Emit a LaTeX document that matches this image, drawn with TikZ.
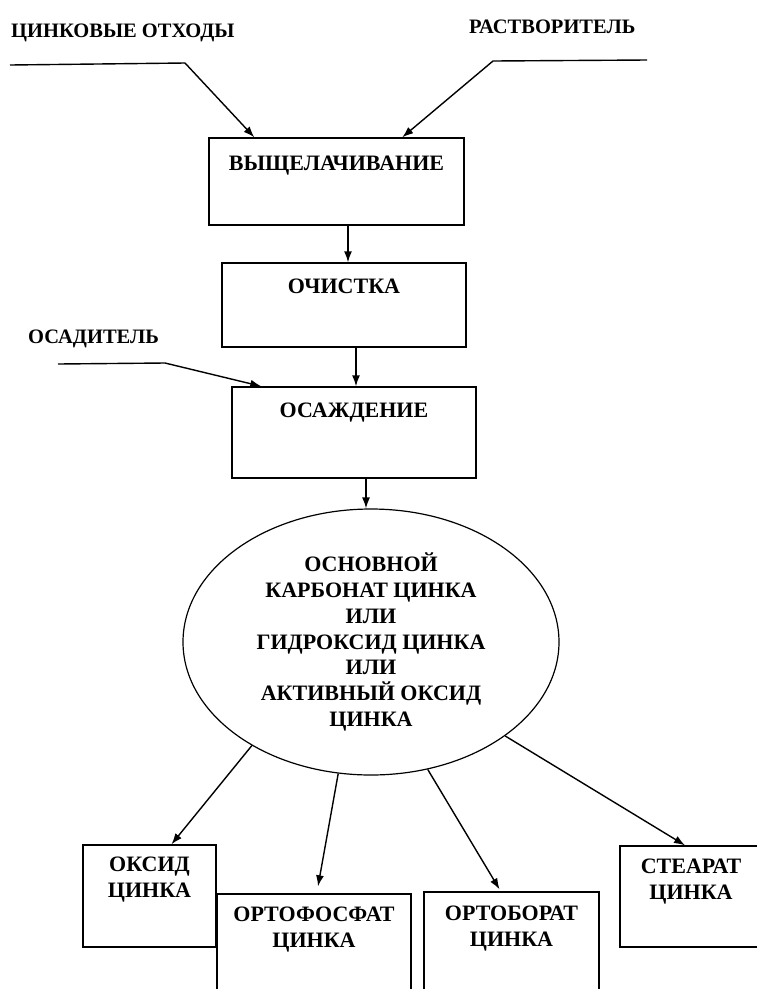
\documentclass[tikz,border=0pt]{standalone}
\usepackage{fontspec}
\setmainfont{Liberation Serif}
\usetikzlibrary{arrows.meta,shapes.geometric}
\begin{document}
\begin{tikzpicture}[x=1pt,y=-1pt,
  box/.style={draw, line width=1.4pt, inner sep=0pt},
  lbl/.style={font=\fontsize{20.5}{24}\selectfont\bfseries, inner sep=0pt},
  txt/.style={font=\fontsize{22}{26}\selectfont\bfseries, inner sep=0pt, align=center},
  arr/.style={line width=1.4pt, -{Latex[length=11pt,width=8pt]}}]
\useasboundingbox (0,0) rectangle (757,989);
\fill[white] (0,0) rectangle (757,989);
\clip (0,0) rectangle (757,989);
% boxes
\node[box, minimum width=255pt, minimum height=87pt] (b1) at (336.5,181.5) {};
\node[box, minimum width=244pt, minimum height=84pt] (b2) at (344,305) {};
\node[box, minimum width=244pt, minimum height=91pt] (b3) at (354,432.5) {};
\node[box, ellipse, line width=1.2pt, minimum width=376pt, minimum height=266pt, txt,
      font=\fontsize{22}{25.8}\selectfont\bfseries] (e) at (371,642)
  {ОСНОВНОЙ\\КАРБОНАТ ЦИНКА\\ИЛИ\\ГИДРОКСИД ЦИНКА\\ИЛИ\\АКТИВНЫЙ ОКСИД\\ЦИНКА};
\node[box, minimum width=133pt, minimum height=102pt] (ok) at (149.5,896) {};
\node[box, minimum width=194pt, minimum height=116pt] (of) at (314,952) {};
\node[box, minimum width=175pt, minimum height=118pt] (ob) at (511.5,951) {};
\node[box, minimum width=150pt, minimum height=101pt] (st) at (695,896.5) {};
% texts
\node[lbl, anchor=base west] (l1) at (11,37) {ЦИНКОВЫЕ ОТХОДЫ};
\node[lbl, anchor=base west] (l2) at (469,33) {РАСТВОРИТЕЛЬ};
\node[lbl, anchor=base west] (l3) at (28,343) {ОСАДИТЕЛЬ};
\node[txt, anchor=base] (t1) at (336.5,170) {ВЫЩЕЛАЧИВАНИЕ};
\node[txt, anchor=base] (t2) at (344,293) {ОЧИСТКА};
\node[txt, anchor=base] (t3) at (354,417) {ОСАЖДЕНИЕ};
\node[txt, anchor=north] (t4) at (149.5,857) {ОКСИД\\ЦИНКА};
\node[txt, anchor=north] (t5) at (314,907) {ОРТОФОСФАТ\\ЦИНКА};
\node[txt, anchor=north] (t6) at (511.5,906) {ОРТОБОРАТ\\ЦИНКА};
\node[txt, anchor=north] (t7) at (691,859) {СТЕАРАТ\\ЦИНКА};
% input lines
\coordinate (zA) at (10,65); \coordinate (zB) at (185,63);
\draw[arr] (zA) -- (zB) -- ([xshift=46pt]b1.north west);
\coordinate (rA) at (647,60); \coordinate (rB) at (493,61);
\draw[arr] (rA) -- (rB) -- ([xshift=194pt]b1.north west);
\coordinate (oA) at (58,364); \coordinate (oB) at (165,363);
\draw[arr] (oA) -- (oB) -- ([xshift=30pt]b3.north west);
% flow arrows
\draw[arr] ([xshift=11.5pt]b1.south) -- ([xshift=11.5pt]b1.south |- b2.north);
\draw[arr] ([xshift=12pt]b2.south) -- ([xshift=12pt]b2.south |- b3.north);
\draw[arr] ([xshift=12pt]b3.south) -- ([xshift=12pt]b3.south |- e.north);
% output arrows
\draw[arr] (e.221) -- ([xshift=22pt]ok.north);
\draw[arr] (e.256) -- ([xshift=4pt,yshift=7pt]of.north);
\draw[arr] (e.294) -- ([xshift=-12pt,yshift=2pt]ob.north);
\draw[arr] (e.325) -- ([xshift=-10pt]st.north);
\end{tikzpicture}
\end{document}
